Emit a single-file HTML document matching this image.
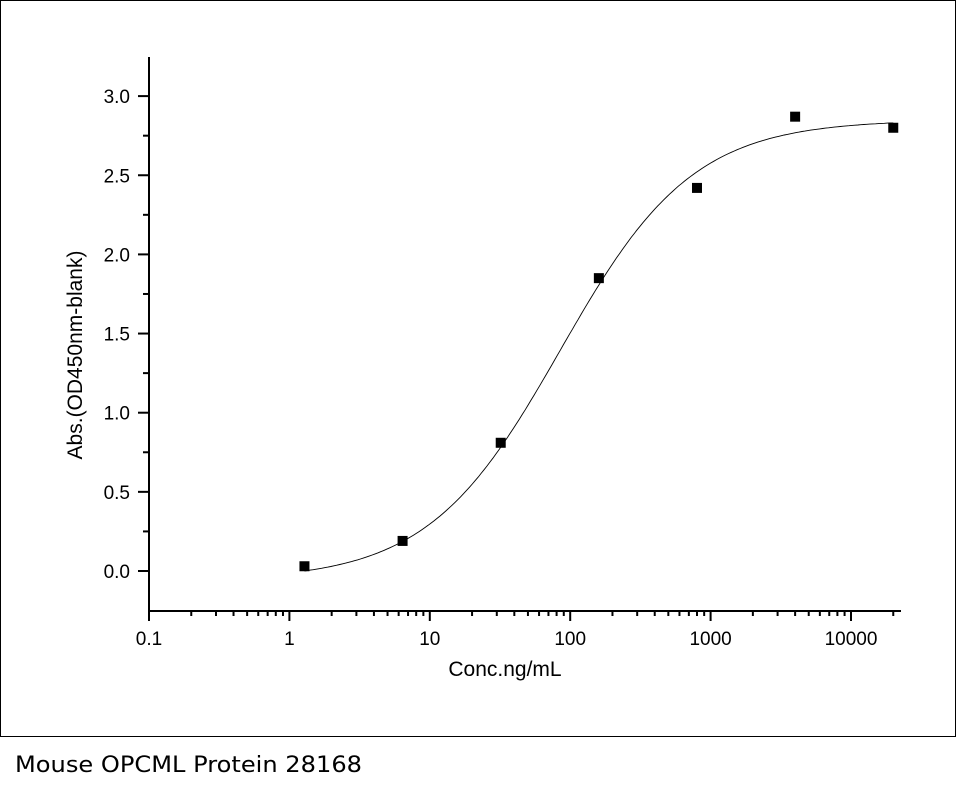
<!DOCTYPE html>
<html><head><meta charset="utf-8"><style>
body{margin:0;background:#fff;width:957px;height:788px;overflow:hidden}
svg{display:block}
text{font-family:"Liberation Sans",Arial,sans-serif;fill:#000}
</style></head><body>
<svg id="s" width="957" height="788" xmlns="http://www.w3.org/2000/svg">
<rect x="0.5" y="0.5" width="955" height="736" fill="none" stroke="#000" stroke-width="1"/>
<text x="15" y="772" font-size="22" textLength="347" lengthAdjust="spacingAndGlyphs" style="font-family:'DejaVu Sans',sans-serif">Mouse OPCML Protein 28168</text>
<line x1="149" y1="57" x2="149" y2="611" stroke="#000" stroke-width="2"/>
<line x1="148" y1="611" x2="901" y2="611" stroke="#000" stroke-width="2"/>
<text x="505" y="676" font-size="21" text-anchor="middle" font-family="Liberation Sans, Arial, sans-serif">Conc.ng/mL</text>
<text transform="translate(82,355) rotate(-90)" font-size="21" text-anchor="middle" font-family="Liberation Sans, Arial, sans-serif">Abs.(OD450nm-blank)</text>
<g id="g"></g>
</svg>
<script>
var g=document.getElementById('g'),h='';
function X(v){return 149+140.4*(Math.log10(v)+1);}
function Y(v){return 571-158.3*v;}
for(var i=0;i<=12;i++){var v=i*0.25,y=Y(v),maj=i%2==0;
h+='<line x1="'+(maj?138:143)+'" y1="'+y+'" x2="149" y2="'+y+'" stroke="#000" stroke-width="2"/>';
if(maj)h+='<text x="130" y="'+(y+7)+'" font-size="19" text-anchor="end" font-family="Liberation Sans, Arial, sans-serif">'+v.toFixed(1)+'</text>';}
var labs=['0.1','1','10','100','1000','10000'];
for(var d=-1;d<=4;d++){for(var m=1;m<=9;m++){var v=m*Math.pow(10,d),x=X(v);if(x>901)break;
h+='<line x1="'+x+'" y1="611" x2="'+x+'" y2="'+(m==1?621:616)+'" stroke="#000" stroke-width="2"/>';
if(m==1)h+='<text x="'+x+'" y="645" font-size="19" text-anchor="middle" font-family="Liberation Sans, Arial, sans-serif">'+labs[d+1]+'</text>';}}
var p='';for(var i=0;i<=200;i++){var lv=Math.log10(1.28)+(Math.log10(20000)-Math.log10(1.28))*i/200,v=Math.pow(10,lv);
var f=-0.06+2.91/(1+Math.pow(85/v,0.92));p+=(i?'L':'M')+X(v).toFixed(1)+' '+Y(f).toFixed(1);}
h+='<path d="'+p+'" fill="none" stroke="#000" stroke-width="0.9"/>';
[[1.28,0.03],[6.4,0.19],[32,0.81],[160,1.85],[800,2.42],[4000,2.87],[20000,2.80]].forEach(function(q){
h+='<rect x="'+(X(q[0])-5)+'" y="'+(Y(q[1])-5)+'" width="10" height="10" fill="#000"/>';});
g.innerHTML=h;
</script>
</body></html>
